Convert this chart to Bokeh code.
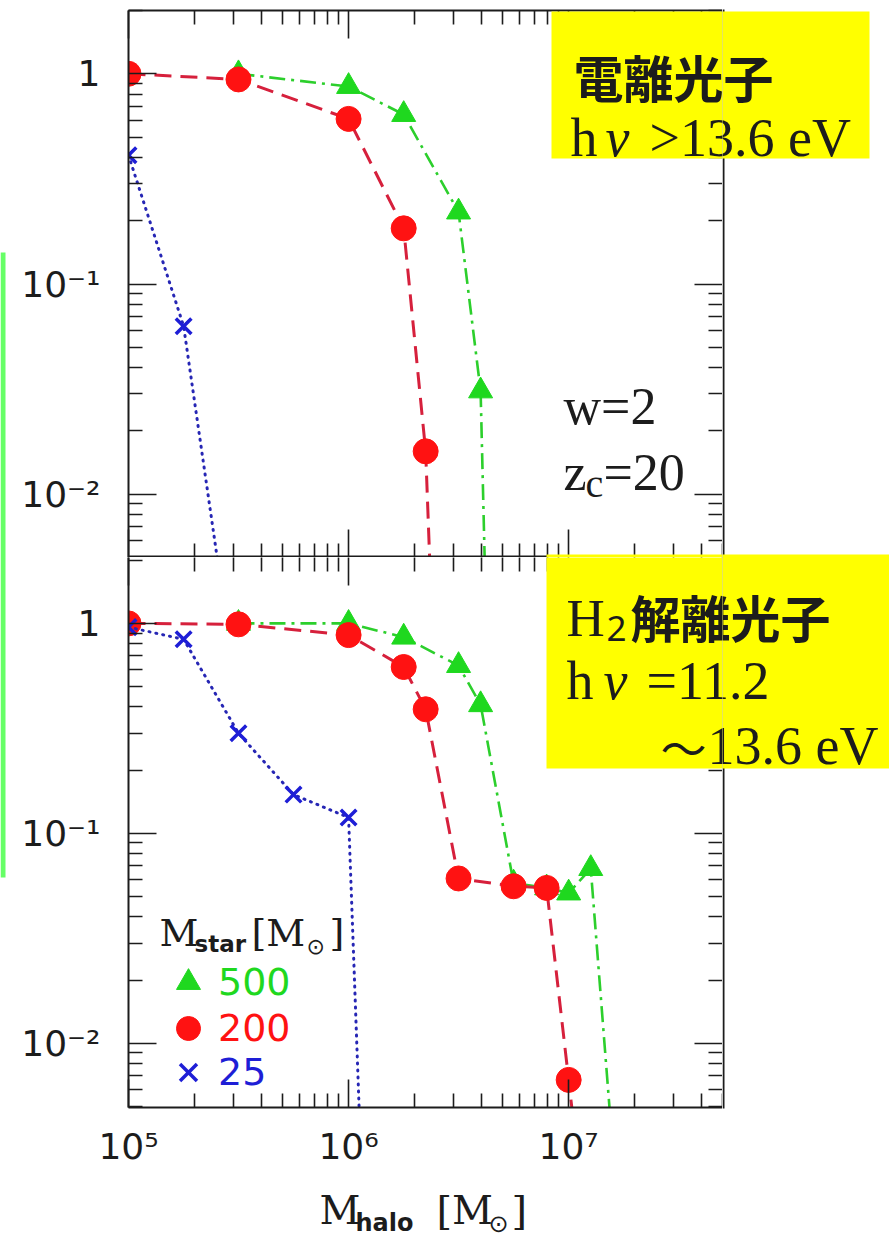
from bokeh.plotting import figure
from bokeh.layouts import column, row
from bokeh.models import (Range1d, LogAxis, FixedTicker, Label, BoxAnnotation,
                          Legend, LegendItem)
from bokeh.embed import file_html
from bokeh.resources import INLINE

# ---------------------------------------------------------------------------
# Escape fraction versus halo mass M_halo [M_sun]
# ---------------------------------------------------------------------------
# Upper panel: ionizing photons (h nu > 13.6 eV)
ion_halo_500 = [3.16e5, 1.0e6, 1.78e6, 3.16e6, 3.98e6, 5.62e6]
ion_fesc_500 = [1.0, 0.87, 0.64, 0.22, 0.031, 1e-8]
ion_halo_200 = [1.0e5, 3.16e5, 1.0e6, 1.78e6, 2.24e6, 3.16e6]
ion_fesc_200 = [1.0, 0.94, 0.61, 0.184, 0.016, 1e-6]
ion_halo_25 = [1.0e5, 1.78e5, 3.16e5]
ion_fesc_25 = [0.41, 0.063, 1e-3]

# Lower panel: H2-dissociating photons (h nu = 11.2 - 13.6 eV)
lw_halo_500 = [3.16e5, 1.0e6, 1.78e6, 3.16e6, 3.98e6, 5.62e6, 7.94e6, 1.0e7, 1.26e7, 1.58e7]
lw_fesc_500 = [1.0, 1.0, 0.86, 0.63, 0.41, 0.058, 0.055, 0.052, 0.068, 3.3e-3]
lw_halo_200 = [1.0e5, 3.16e5, 1.0e6, 1.78e6, 2.24e6, 3.16e6, 5.62e6, 7.94e6, 1.0e7, 1.26e7]
lw_fesc_200 = [1.0, 0.99, 0.88, 0.62, 0.39, 0.061, 0.056, 0.055, 0.0067, 8e-4]
lw_halo_25 = [1.0e5, 1.78e5, 3.16e5, 5.62e5, 1.0e6, 1.26e6]
lw_fesc_25 = [0.96, 0.84, 0.30, 0.153, 0.119, 1.5e-4]

star_mass_labels = ["500", "200", "25"]

x_major = [1e5, 1e6, 1e7]
x_major_labels = ["10\u2075", "10\u2076", "10\u2077"]
y_major = [1e-2, 1e-1, 1.0]
y_major_labels = ["10\u207b\u00b2", "10\u207b\u00b9", "1"]

# ---------------------------------------------------------------------------
# Page geometry (pixels)
# ---------------------------------------------------------------------------
PAGE_W, PAGE_H = 889, 1240
STRIP_L = 6                     # narrow strip at the far left
FRAME_L, FRAME_R = 128, 722     # plot frame, both panels
TOP_Y0, MID_Y, BOT_Y1 = 10, 557, 1107
TITLE_Y0 = 1185                 # strip holding the x-axis title
TITLE_SHIFT = -14               # baseline correction inside the title strip
MAIN_W = FRAME_R - STRIP_L

INK = "#1c1c1c"
GREEN = "#1fd81f"
GREEN_LINE = "#2ccf2c"
RED = "#ff1212"
RED_LINE = "#d6203c"
BLUE = "#1e1ed6"
BLUE_LINE = "#2626b4"
YELLOW = "#ffff00"
SIDE_GREEN = "#66ff66"

X_RANGE = (1e5, 5e7)

x_minor = [m * 10.0 ** e for e in (5, 6, 7) for m in range(2, 10) if m * 10.0 ** e <= X_RANGE[1]]
y_minor = [m * 10.0 ** e for e in (-3, -2, -1, 0) for m in range(2, 10)]


def style_axis(ax, ticker, ticks, labels=None):
    ax.ticker = ticker
    ax.axis_line_width = 2
    ax.axis_line_color = INK
    ax.major_tick_in = 28
    ax.major_tick_out = 0
    ax.minor_tick_in = 14
    ax.minor_tick_out = 0
    ax.major_tick_line_width = 1.6
    ax.minor_tick_line_width = 1.6
    ax.major_tick_line_color = INK
    ax.minor_tick_line_color = INK
    if labels:
        ax.major_label_overrides = dict(zip(ticks, labels))
        ax.major_label_text_font = "DejaVu Sans"
        ax.major_label_text_font_size = "36px"
        ax.major_label_text_color = INK
    else:
        # tick marks only on this side
        ax.major_label_overrides = {t: "" for t in ticks}
        ax.major_label_text_font_size = "1px"
        ax.major_label_text_alpha = 0.0
        ax.major_label_standoff = 0


def make_panel(height, y_range, border_top, border_bottom, upper):
    p = figure(width=MAIN_W, height=height, x_axis_type="log", y_axis_type="log",
               x_range=Range1d(*X_RANGE), y_range=Range1d(*y_range),
               output_backend="svg", toolbar_location=None, title=None,
               min_border_left=FRAME_L - STRIP_L, min_border_right=0,
               min_border_top=border_top, min_border_bottom=border_bottom)
    p.outline_line_color = None
    p.xgrid.visible = False
    p.ygrid.visible = False
    p.background_fill_color = "white"
    p.border_fill_color = "white"

    xt = FixedTicker(ticks=x_major, minor_ticks=x_minor)
    yt = FixedTicker(ticks=y_major, minor_ticks=y_minor)

    style_axis(p.below[0], xt, x_major, None if upper else x_major_labels)
    if upper:
        # shared divider between the panels
        p.below[0].axis_line_width = 4
    else:
        p.below[0].major_label_standoff = 18
    style_axis(p.left[0], yt, y_major, y_major_labels)
    p.left[0].major_label_standoff = 28

    top_ax = LogAxis()
    style_axis(top_ax, xt, x_major, None)
    if not upper:
        top_ax.axis_line_color = None
    p.add_layout(top_ax, "above")
    # right-hand ticks; the edge line itself is drawn in the right strip
    right_ax = LogAxis()
    style_axis(right_ax, yt, y_major, None)
    right_ax.axis_line_color = None
    p.add_layout(right_ax, "right")
    return p


def make_strip(width, height, border_left=0):
    s = figure(width=width, height=height, x_range=Range1d(0, 1), y_range=Range1d(0, 1),
               x_axis_location=None, y_axis_location=None, toolbar_location=None,
               output_backend="svg", title=None, min_border=0,
               min_border_left=border_left, min_border_right=0,
               min_border_top=0, min_border_bottom=0)
    s.outline_line_color = None
    s.grid.visible = False
    s.background_fill_color = "white"
    s.border_fill_color = "white"
    return s


def draw_series(p, xs, ys, kind):
    if kind == "500":
        p.line(xs, ys, line_color=GREEN_LINE, line_width=2.6, line_dash="16 6 3 6")
        return p.scatter(xs, ys, marker="triangle", size=24, fill_color=GREEN,
                         line_color=GREEN, line_width=1)
    if kind == "200":
        p.line(xs, ys, line_color=RED_LINE, line_width=3, line_dash="17 9")
        return p.scatter(xs, ys, marker="circle", size=25, fill_color=RED,
                         line_color=RED, line_width=1)
    p.line(xs, ys, line_color=BLUE_LINE, line_width=3, line_dash="1 6", line_cap="round")
    return p.scatter(xs, ys, marker="x", size=22, line_color=BLUE, line_width=3.5)


def put(p, origin, text, X, Y, size, font="Liberation Serif", style="normal", color=INK):
    ox, oy = origin
    p.add_layout(Label(x=X - ox, y=oy - Y, x_units="screen", y_units="screen",
                       text=text, text_font=font, text_font_size=f"{size}px",
                       text_font_style=style, text_color=color,
                       text_baseline="alphabetic", text_align="left"))


def block(p, origin, x0, y0, x1, y1, color):
    ox, oy = origin
    p.add_layout(BoxAnnotation(left=x0 - ox, right=x1 - ox, top=oy - y0, bottom=oy - y1,
                               left_units="screen", right_units="screen",
                               top_units="screen", bottom_units="screen",
                               fill_color=color, fill_alpha=1.0, line_color=None))


def ion_box(p, origin):
    block(p, origin, 551, 11, 869, 158, YELLOW)
    put(p, origin, "電離光子", 573, 75, 50, font="Noto Sans CJK JP", style="bold")
    put(p, origin, "h", 570, 137, 54)
    put(p, origin, "\u03bd", 605, 137, 54, style="italic")
    put(p, origin, ">13.6 eV", 649, 137, 54)


def lw_box(p, origin):
    block(p, origin, 546, 554, PAGE_W, 768, YELLOW)
    put(p, origin, "H", 566, 617, 53)
    put(p, origin, "2", 606, 628, 35, font="Noto Sans")
    put(p, origin, "解離光子", 630, 615, 50, font="Noto Sans CJK JP", style="bold")
    put(p, origin, "h", 566, 680, 54)
    put(p, origin, "\u03bd", 603, 680, 54, style="italic")
    put(p, origin, "=11.2", 646, 680, 54)
    put(p, origin, "\u301c", 660, 745, 46, font="Noto Sans CJK JP")
    put(p, origin, "13.6 eV", 707, 745, 54)


# ---------------------------------------------------------------------------
# Upper panel: ionizing photons
# ---------------------------------------------------------------------------
top = make_panel(MID_Y, (5e-3, 2.0), TOP_Y0, 0, True)
TOP_ORIGIN = (FRAME_L, MID_Y)
draw_series(top, ion_halo_500, ion_fesc_500, "500")
draw_series(top, ion_halo_200, ion_fesc_200, "200")
draw_series(top, ion_halo_25, ion_fesc_25, "25")
ion_box(top, TOP_ORIGIN)
block(top, TOP_ORIGIN, 546, 554, FRAME_R + 4, MID_Y + 4, YELLOW)

put(top, TOP_ORIGIN, "w=2", 563, 406, 52)
put(top, TOP_ORIGIN, "z", 563, 472, 52)
put(top, TOP_ORIGIN, "c", 585, 483, 40)
put(top, TOP_ORIGIN, "=20", 603, 472, 52)

# ---------------------------------------------------------------------------
# Lower panel: H2-dissociating photons
# ---------------------------------------------------------------------------
bot = make_panel(TITLE_Y0 - MID_Y, (4.95e-3, 2.06), 0, TITLE_Y0 - BOT_Y1, False)
BOT_ORIGIN = (FRAME_L, BOT_Y1)
r500 = draw_series(bot, lw_halo_500, lw_fesc_500, "500")
r200 = draw_series(bot, lw_halo_200, lw_fesc_200, "200")
r25 = draw_series(bot, lw_halo_25, lw_fesc_25, "25")
lw_box(bot, BOT_ORIGIN)

# legend: M_star [M_sun]
put(bot, BOT_ORIGIN, "M", 159, 932, 38, font="DejaVu Serif")
put(bot, BOT_ORIGIN, "star", 194, 943, 23, font="DejaVu Sans", style="bold")
put(bot, BOT_ORIGIN, "[M", 251, 932, 38, font="DejaVu Serif")
put(bot, BOT_ORIGIN, "\u2299", 306, 946, 22, font="DejaVu Sans")
put(bot, BOT_ORIGIN, "]", 329, 932, 38, font="DejaVu Serif")

KEY_BOX = 60
for renderer, label, color, cy in zip((r500, r200, r25), star_mass_labels,
                                      (GREEN, RED, BLUE), (982, 1028, 1072)):
    key = Legend(items=[LegendItem(label=label, renderers=[renderer])],
                 location=(188 - KEY_BOX / 2 - FRAME_L, BOT_Y1 - (cy + KEY_BOX / 2)),
                 glyph_width=KEY_BOX, glyph_height=KEY_BOX, label_height=KEY_BOX,
                 label_width=10, label_standoff=0, padding=0, margin=0, spacing=0,
                 border_line_color=None, background_fill_alpha=0.0,
                 label_text_font="DejaVu Sans", label_text_font_size="38px",
                 label_text_color=color, label_text_baseline="alphabetic")
    bot.add_layout(key)

# ---------------------------------------------------------------------------
# x-axis title: M_halo [M_sun]
# ---------------------------------------------------------------------------
title_strip = make_strip(MAIN_W, PAGE_H - TITLE_Y0, border_left=FRAME_L - STRIP_L)
TITLE_ORIGIN = (FRAME_L, PAGE_H - TITLE_SHIFT)
put(title_strip, TITLE_ORIGIN, "M", 319, 1223, 40, font="DejaVu Serif")
put(title_strip, TITLE_ORIGIN, "halo", 355, 1236, 24, font="DejaVu Sans", style="bold")
put(title_strip, TITLE_ORIGIN, "[M", 436, 1223, 40, font="DejaVu Serif")
put(title_strip, TITLE_ORIGIN, "\u2299", 488, 1237, 24, font="DejaVu Sans")
put(title_strip, TITLE_ORIGIN, "]", 511, 1223, 40, font="DejaVu Serif")

# ---------------------------------------------------------------------------
# Side strips: green marker bar on the left; on the right the frame edge and
# the label boxes running off the plot
# ---------------------------------------------------------------------------
left_strip = make_strip(STRIP_L, PAGE_H)
block(left_strip, (0, PAGE_H), 0, 252, 5, 877, SIDE_GREEN)

right_strip = make_strip(PAGE_W - FRAME_R, PAGE_H)
RIGHT_ORIGIN = (FRAME_R, PAGE_H)
block(right_strip, RIGHT_ORIGIN, FRAME_R, TOP_Y0 - 1, FRAME_R + 2, BOT_Y1 + 1, INK)
ion_box(right_strip, RIGHT_ORIGIN)
lw_box(right_strip, RIGHT_ORIGIN)

layout = row(left_strip, column(top, bot, title_strip, spacing=0), right_strip, spacing=0)
open("out.html", "w").write(file_html(layout, INLINE))
